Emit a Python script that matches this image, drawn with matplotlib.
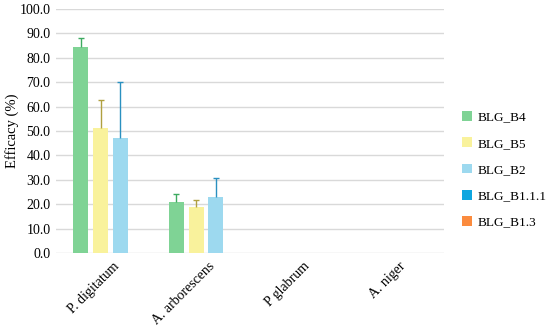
import numpy as np
import matplotlib
matplotlib.use("Agg")
import matplotlib.pyplot as plt
import matplotlib.transforms as mtransforms

plt.rcParams['font.family'] = ['Liberation Serif', 'DejaVu Serif']

categories = ["P. digitatum", "A. arborescens", "P glabrum", "A. niger"]
series = ["BLG_B4", "BLG_B5", "BLG_B2", "BLG_B1.1.1", "BLG_B1.3"]
b4 = [84.4, 21.0, 0.0, 0.0]
b5 = [51.4, 18.7, 0.0, 0.0]
b2 = [47.3, 23.0, 0.0, 0.0]
b111 = [0.0, 0.0, 0.0, 0.0]
b13 = [0.0, 0.0, 0.0, 0.0]
b4_err = [3.8, 3.2, 0.0, 0.0]
b5_err = [11.4, 3.0, 0.0, 0.0]
b2_err = [22.9, 7.6, 0.0, 0.0]
b111_err = [0.0, 0.0, 0.0, 0.0]
b13_err = [0.0, 0.0, 0.0, 0.0]
yticks = np.arange(0, 101, 10)

values = [b4, b5, b2, b111, b13]
errors = [b4_err, b5_err, b2_err, b111_err, b13_err]
colors = ["#7fd395", "#f9f29c", "#9dd9ef", "#0ea6e0", "#fb8b3e"]
err_colors = ["#3daa60", "#b0a040", "#2a90c0", "#0a80b0", "#d06020"]
offsets = [-0.24, -0.03, 0.175, 0.38, 0.585]
width = 0.157

fig = plt.figure(figsize=(5.5, 3.32), dpi=100)
ax = fig.add_axes([56/550, 1 - 253/332, 388/550, 244/332])

x = np.arange(len(categories))
for vals, errs, col, ecol, off, name in zip(values, errors, colors, err_colors, offsets, series):
    vals = np.array(vals)
    errs = np.array(errs)
    ax.bar(x + off, vals, width, color=col, label=name, zorder=3)
    m = vals > 0
    if m.any():
        # upper error only, cap on top
        ax.vlines(x[m] + off, vals[m], vals[m] + errs[m], color=ecol,
                  linewidth=1.0, zorder=4)
        ax.plot(x[m] + off, vals[m] + errs[m], ls='none', marker='_',
                markersize=5, markeredgewidth=1.0, color=ecol, zorder=4)

ax.set_ylim(0, 100)
ax.set_xlim(-0.5, 3.565)
ax.set_yticks(yticks)
ax.set_yticklabels([f"{v:.1f}" for v in yticks], fontsize=10)
ax.yaxis.grid(True, color="#d9d9d9", linewidth=1.0, zorder=0)
ax.tick_params(axis='both', length=0, pad=4)
for s in ax.spines.values():
    s.set_visible(False)

ax.set_xticks(x)
ax.set_xticklabels(categories, rotation=45, ha='right', va='top', fontsize=10)
shift = mtransforms.ScaledTranslation(18/100, -1/100, fig.dpi_scale_trans)
for lab in ax.get_xticklabels():
    lab.set_transform(lab.get_transform() + shift)

fig.text(12/550, 1 - 131/332, "Efficacy (%)", rotation=90, fontsize=10.5,
         ha='center', va='center')

ax.legend(loc='upper left', bbox_to_anchor=(462/550, 1 - 111/332),
          bbox_transform=fig.transFigure, frameon=False, fontsize=9.5,
          handlelength=0.75, handleheight=0.75, handletextpad=0.45,
          labelspacing=1.05, borderaxespad=0, borderpad=0)

fig.savefig("out.png", dpi=100)
